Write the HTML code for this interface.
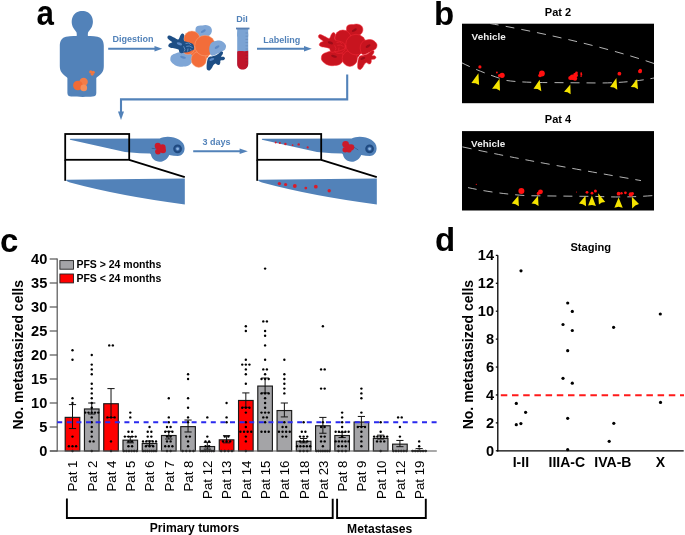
<!DOCTYPE html>
<html><head><meta charset="utf-8"><style>
html,body{margin:0;padding:0;background:#fff;}
svg{display:block;will-change:transform;}
text{font-family:"Liberation Sans",sans-serif;}
</style></head><body>
<svg width="685" height="535" viewBox="0 0 685 535">
<rect width="685" height="535" fill="#fff"/>
<text x="0" y="0" font-size="33" font-weight="bold" fill="#000" text-anchor="start" transform="translate(36.4 25) scale(0.95 1.045)">a</text>
<text x="434.0" y="25.2" font-size="33" font-weight="bold" fill="#000" text-anchor="start" >b</text>
<text x="0" y="252.3" font-size="33" font-weight="bold" fill="#000" text-anchor="start" >c</text>
<text x="435.0" y="251" font-size="33" font-weight="bold" fill="#000" text-anchor="start" >d</text>
<g fill="#5282b9"><path d="M66 36.8 C62 37.5 59.8 41 59.8 46 L59.8 66 C59.8 71 62 74 66.8 77.3 L67.4 78 L67.4 93 C67.4 95.5 68.9 96.5 71.2 96.6 C78 97 88 97 92.5 96.6 C95 96.4 96.3 95.5 96.3 93 L96.3 78 L96.9 77.3 C102 74 103.8 71 103.8 66 L103.8 46 C103.8 41 101.5 37.5 97.5 36.8 C93 36 88 36 82 36 C76 36 71 36 66 36.8 Z"/></g>
<g><circle cx="83.6" cy="81.9" r="4.2" fill="#f27c48"/><circle cx="77.9" cy="85.5" r="4.8" fill="#f26b35"/><circle cx="83.8" cy="87.9" r="3.3" fill="#f48f5c"/><circle cx="90.8" cy="71.9" r="1.6" fill="#f2763e"/><circle cx="93.3" cy="72.2" r="1.5" fill="#f2763e"/><circle cx="92.2" cy="74.3" r="1.4" fill="#f2763e"/></g>
<path d="M82.30 10.90 C84.13 10.90 86.25 11.32 87.80 12.20 C89.35 13.08 90.75 14.65 91.60 16.20 C92.45 17.75 92.83 19.78 92.90 21.50 C92.97 23.22 92.55 25.03 92.00 26.50 C91.45 27.97 90.27 29.25 89.60 30.30 C88.93 31.35 88.28 31.85 88.00 32.80 C87.72 33.75 87.82 35.05 87.90 36.00 C87.98 36.95 90.47 38.08 88.50 38.50 C86.53 38.92 78.07 38.92 76.10 38.50 C74.13 38.08 76.62 36.95 76.70 36.00 C76.78 35.05 76.88 33.75 76.60 32.80 C76.32 31.85 75.67 31.35 75.00 30.30 C74.33 29.25 73.15 27.97 72.60 26.50 C72.05 25.03 71.63 23.22 71.70 21.50 C71.77 19.78 72.15 17.75 73.00 16.20 C73.85 14.65 75.25 13.08 76.80 12.20 C78.35 11.32 80.47 10.90 82.30 10.90 Z" fill="#5282b9"/>
<line x1="108.2" y1="48.8" x2="156" y2="48.8" stroke="#5282b9" stroke-width="2.1"/>
<path d="M154.5 46 L162.3 48.8 L154.5 51.6 Z" fill="#5282b9"/>
<text x="112.4" y="41.9" font-size="9" font-weight="bold" fill="#5282b9" text-anchor="start" >Digestion</text>
<g transform="translate(0 0)"><ellipse cx="200" cy="48" rx="11" ry="13" fill="#f26d3a"/><path d="M195.5 29 C195.5 26 199 25 202.5 25.6 C205 24.6 209.5 25 211.2 27.8 C212.6 30.5 212 33.5 209.5 35.5 C206 37.5 200 38 197 36.5 C195.5 35 195.3 31.5 195.5 29 Z" fill="#7fa6d6" stroke="none" stroke-width="0.45"/><ellipse cx="203.3" cy="31.2" rx="2.8" ry="1.2" transform="rotate(-30 203.3 31.2)" fill="#5b89c6"/><path d="M171.70 55.20 C172.63 54.37 174.62 53.68 176.00 53.20 C177.38 52.72 178.50 52.43 180.00 52.30 C181.50 52.17 183.38 52.25 185.00 52.40 C186.62 52.55 188.48 52.60 189.70 53.20 C190.92 53.80 191.82 54.87 192.30 56.00 C192.78 57.13 192.90 58.67 192.60 60.00 C192.30 61.33 191.37 63.02 190.50 64.00 C189.63 64.98 188.57 65.48 187.40 65.90 C186.23 66.32 184.73 66.37 183.50 66.50 C182.27 66.63 181.42 66.92 180.00 66.70 C178.58 66.48 176.50 66.05 175.00 65.20 C173.50 64.35 171.77 62.77 171.00 61.60 C170.23 60.43 170.28 59.27 170.40 58.20 C170.52 57.13 170.77 56.03 171.70 55.20 Z" fill="#7fa6d6" stroke="none" stroke-width="0.45"/><ellipse cx="183" cy="57.3" rx="3" ry="1.2" transform="rotate(15 183 57.3)" fill="#5b89c6"/><circle cx="188" cy="48" r="6.5" fill="#f26d3a" stroke="#f9b08a" stroke-width="0.45"/><circle cx="191.9" cy="39.1" r="8.1" fill="#f26d3a" stroke="#f9b08a" stroke-width="0.45"/><ellipse cx="198.8" cy="59.5" rx="7.6" ry="7.9" fill="#f26d3a" stroke="#f9b08a" stroke-width="0.45"/><circle cx="205" cy="45.6" r="10.3" fill="#f26d3a" stroke="#f9b08a" stroke-width="0.45"/><path d="M211.00 43.30 C211.85 42.33 213.08 41.67 214.50 41.20 C215.92 40.73 218.05 40.37 219.50 40.50 C220.95 40.63 222.13 41.20 223.20 42.00 C224.27 42.80 225.57 44.08 225.90 45.30 C226.23 46.52 225.88 48.25 225.20 49.30 C224.52 50.35 223.25 50.77 221.80 51.60 C220.35 52.43 218.20 53.63 216.50 54.30 C214.80 54.97 212.77 56.07 211.60 55.60 C210.43 55.13 209.87 52.93 209.50 51.50 C209.13 50.07 209.15 48.37 209.40 47.00 C209.65 45.63 210.15 44.27 211.00 43.30 Z" fill="#7fa6d6" stroke="none" stroke-width="0.45"/><ellipse cx="217.1" cy="47.1" rx="2.7" ry="1.2" transform="rotate(-30 217.1 47.1)" fill="#5b89c6"/><path d="M167.60 36.40 C167.88 35.90 168.43 35.40 169.50 35.60 C170.57 35.80 172.53 36.97 174.00 37.60 C175.47 38.23 177.25 39.75 178.30 39.40 C179.35 39.05 179.63 36.47 180.30 35.50 C180.97 34.53 181.65 33.68 182.30 33.60 C182.95 33.52 183.95 34.13 184.20 35.00 C184.45 35.87 183.75 37.77 183.80 38.80 C183.85 39.83 183.72 40.63 184.50 41.20 C185.28 41.77 187.17 41.77 188.50 42.20 C189.83 42.63 191.58 43.08 192.50 43.80 C193.42 44.52 193.78 45.53 194.00 46.50 C194.22 47.47 194.30 48.85 193.80 49.60 C193.30 50.35 192.05 50.57 191.00 51.00 C189.95 51.43 188.67 51.93 187.50 52.20 C186.33 52.47 184.92 52.42 184.00 52.60 C183.08 52.78 182.75 53.30 182.00 53.30 C181.25 53.30 180.08 53.22 179.50 52.60 C178.92 51.98 179.25 50.30 178.50 49.60 C177.75 48.90 176.33 48.72 175.00 48.40 C173.67 48.08 171.62 48.10 170.50 47.70 C169.38 47.30 168.47 46.68 168.30 46.00 C168.13 45.32 168.83 44.22 169.50 43.60 C170.17 42.98 172.22 42.82 172.30 42.30 C172.38 41.78 170.75 41.12 170.00 40.50 C169.25 39.88 168.20 39.28 167.80 38.60 C167.40 37.92 167.32 36.90 167.60 36.40 Z" fill="#1d4e85" stroke="none" stroke-width="0.45"/><ellipse cx="179.4" cy="43.8" rx="2.8" ry="1.3" transform="rotate(20 179.4 43.8)" fill="#5b89c6"/><path d="M185.5 43.6 L188.6 43 L191.2 44.8 M186.2 46.4 L189.3 46 L192.6 47.5 M183.6 46.3 L185 49.8 L184 51.5 M188 48.5 L187.6 51.6 M190.4 48.8 L191.2 50.5" stroke="#7aa3d6" stroke-width="0.7" fill="none"/><path d="M207.30 60.50 C207.67 58.97 207.93 58.00 208.80 57.30 C209.67 56.60 211.30 56.65 212.50 56.30 C213.70 55.95 214.92 55.72 216.00 55.20 C217.08 54.68 218.13 53.82 219.00 53.20 C219.87 52.58 220.53 51.67 221.20 51.50 C221.87 51.33 222.78 51.70 223.00 52.20 C223.22 52.70 222.83 53.77 222.50 54.50 C222.17 55.23 220.82 56.22 221.00 56.60 C221.18 56.98 222.93 56.52 223.60 56.80 C224.27 57.08 224.97 57.77 225.00 58.30 C225.03 58.83 224.53 59.62 223.80 60.00 C223.07 60.38 221.18 60.13 220.60 60.60 C220.02 61.07 220.50 62.12 220.30 62.80 C220.10 63.48 219.90 64.37 219.40 64.70 C218.90 65.03 217.93 64.98 217.30 64.80 C216.67 64.62 216.23 63.57 215.60 63.60 C214.97 63.63 214.10 64.30 213.50 65.00 C212.90 65.70 212.65 66.90 212.00 67.80 C211.35 68.70 210.40 70.07 209.60 70.40 C208.80 70.73 207.70 70.45 207.20 69.80 C206.70 69.15 206.58 68.05 206.60 66.50 C206.62 64.95 206.93 62.03 207.30 60.50 Z" fill="#1d4e85" stroke="none" stroke-width="0.45"/><ellipse cx="211.8" cy="59.4" rx="2.6" ry="1.2" transform="rotate(-20 211.8 59.4)" fill="#5b89c6"/></g>
<text x="236.3" y="21.8" font-size="9" font-weight="bold" fill="#5282b9" text-anchor="start" >DiI</text>
<rect x="237.2" y="28.5" width="11" height="40.8" rx="5.5" fill="#7ba3d3"/>
<rect x="237.2" y="28.5" width="11" height="8" fill="#7ba3d3"/>
<path d="M237.2 51.5 C240 50.3 244 51.8 248.2 50.8 L248.2 64 C248.2 67.5 245.8 69.6 242.7 69.6 C239.6 69.6 237.2 67.5 237.2 64 Z" fill="#c0142a"/>
<rect x="236" y="27.6" width="13.5" height="1.8" fill="#5a80b2"/>
<line x1="245.5" y1="33.0" x2="248" y2="33.0" stroke="rgba(20,40,90,0.3)" stroke-width="0.5"/><line x1="245.5" y1="36.2" x2="248" y2="36.2" stroke="rgba(20,40,90,0.3)" stroke-width="0.5"/><line x1="245.5" y1="39.4" x2="248" y2="39.4" stroke="rgba(20,40,90,0.3)" stroke-width="0.5"/><line x1="245.5" y1="42.6" x2="248" y2="42.6" stroke="rgba(20,40,90,0.3)" stroke-width="0.5"/><line x1="245.5" y1="45.8" x2="248" y2="45.8" stroke="rgba(20,40,90,0.3)" stroke-width="0.5"/><line x1="245.5" y1="49.0" x2="248" y2="49.0" stroke="rgba(20,40,90,0.3)" stroke-width="0.5"/><line x1="245.5" y1="52.2" x2="248" y2="52.2" stroke="rgba(20,40,90,0.3)" stroke-width="0.5"/><line x1="245.5" y1="55.4" x2="248" y2="55.4" stroke="rgba(20,40,90,0.3)" stroke-width="0.5"/><line x1="245.5" y1="58.6" x2="248" y2="58.6" stroke="rgba(20,40,90,0.3)" stroke-width="0.5"/><line x1="245.5" y1="61.8" x2="248" y2="61.8" stroke="rgba(20,40,90,0.3)" stroke-width="0.5"/><line x1="245.5" y1="65.0" x2="248" y2="65.0" stroke="rgba(20,40,90,0.3)" stroke-width="0.5"/>
<line x1="257" y1="48.8" x2="305" y2="48.8" stroke="#5282b9" stroke-width="2.1"/>
<path d="M304 46 L311.8 48.8 L304 51.6 Z" fill="#5282b9"/>
<text x="263.3" y="42.7" font-size="9" font-weight="bold" fill="#5282b9" text-anchor="start" >Labeling</text>
<g transform="translate(151 -1)"><ellipse cx="200" cy="48" rx="11" ry="13" fill="#c8141f"/><path d="M195.5 29 C195.5 26 199 25 202.5 25.6 C205 24.6 209.5 25 211.2 27.8 C212.6 30.5 212 33.5 209.5 35.5 C206 37.5 200 38 197 36.5 C195.5 35 195.3 31.5 195.5 29 Z" fill="#c8141f" stroke="#f42a38" stroke-width="0.5"/><ellipse cx="203.3" cy="31.2" rx="2.8" ry="1.2" transform="rotate(-30 203.3 31.2)" fill="#9c0c18"/><path d="M171.70 55.20 C172.63 54.37 174.62 53.68 176.00 53.20 C177.38 52.72 178.50 52.43 180.00 52.30 C181.50 52.17 183.38 52.25 185.00 52.40 C186.62 52.55 188.48 52.60 189.70 53.20 C190.92 53.80 191.82 54.87 192.30 56.00 C192.78 57.13 192.90 58.67 192.60 60.00 C192.30 61.33 191.37 63.02 190.50 64.00 C189.63 64.98 188.57 65.48 187.40 65.90 C186.23 66.32 184.73 66.37 183.50 66.50 C182.27 66.63 181.42 66.92 180.00 66.70 C178.58 66.48 176.50 66.05 175.00 65.20 C173.50 64.35 171.77 62.77 171.00 61.60 C170.23 60.43 170.28 59.27 170.40 58.20 C170.52 57.13 170.77 56.03 171.70 55.20 Z" fill="#c8141f" stroke="#f42a38" stroke-width="0.5"/><ellipse cx="183" cy="57.3" rx="3" ry="1.2" transform="rotate(15 183 57.3)" fill="#9c0c18"/><circle cx="188" cy="48" r="6.5" fill="#c8141f" stroke="#f42a38" stroke-width="0.5"/><circle cx="191.9" cy="39.1" r="8.1" fill="#c8141f" stroke="#f42a38" stroke-width="0.5"/><ellipse cx="198.8" cy="59.5" rx="7.6" ry="7.9" fill="#c8141f" stroke="#f42a38" stroke-width="0.5"/><circle cx="205" cy="45.6" r="10.3" fill="#c8141f" stroke="#f42a38" stroke-width="0.5"/><path d="M211.00 43.30 C211.85 42.33 213.08 41.67 214.50 41.20 C215.92 40.73 218.05 40.37 219.50 40.50 C220.95 40.63 222.13 41.20 223.20 42.00 C224.27 42.80 225.57 44.08 225.90 45.30 C226.23 46.52 225.88 48.25 225.20 49.30 C224.52 50.35 223.25 50.77 221.80 51.60 C220.35 52.43 218.20 53.63 216.50 54.30 C214.80 54.97 212.77 56.07 211.60 55.60 C210.43 55.13 209.87 52.93 209.50 51.50 C209.13 50.07 209.15 48.37 209.40 47.00 C209.65 45.63 210.15 44.27 211.00 43.30 Z" fill="#c8141f" stroke="#f42a38" stroke-width="0.5"/><ellipse cx="217.1" cy="47.1" rx="2.7" ry="1.2" transform="rotate(-30 217.1 47.1)" fill="#9c0c18"/><path d="M167.60 36.40 C167.88 35.90 168.43 35.40 169.50 35.60 C170.57 35.80 172.53 36.97 174.00 37.60 C175.47 38.23 177.25 39.75 178.30 39.40 C179.35 39.05 179.63 36.47 180.30 35.50 C180.97 34.53 181.65 33.68 182.30 33.60 C182.95 33.52 183.95 34.13 184.20 35.00 C184.45 35.87 183.75 37.77 183.80 38.80 C183.85 39.83 183.72 40.63 184.50 41.20 C185.28 41.77 187.17 41.77 188.50 42.20 C189.83 42.63 191.58 43.08 192.50 43.80 C193.42 44.52 193.78 45.53 194.00 46.50 C194.22 47.47 194.30 48.85 193.80 49.60 C193.30 50.35 192.05 50.57 191.00 51.00 C189.95 51.43 188.67 51.93 187.50 52.20 C186.33 52.47 184.92 52.42 184.00 52.60 C183.08 52.78 182.75 53.30 182.00 53.30 C181.25 53.30 180.08 53.22 179.50 52.60 C178.92 51.98 179.25 50.30 178.50 49.60 C177.75 48.90 176.33 48.72 175.00 48.40 C173.67 48.08 171.62 48.10 170.50 47.70 C169.38 47.30 168.47 46.68 168.30 46.00 C168.13 45.32 168.83 44.22 169.50 43.60 C170.17 42.98 172.22 42.82 172.30 42.30 C172.38 41.78 170.75 41.12 170.00 40.50 C169.25 39.88 168.20 39.28 167.80 38.60 C167.40 37.92 167.32 36.90 167.60 36.40 Z" fill="#c8141f" stroke="#f42a38" stroke-width="0.5"/><ellipse cx="179.4" cy="43.8" rx="2.8" ry="1.3" transform="rotate(20 179.4 43.8)" fill="#9c0c18"/><path d="M185.5 43.6 L188.6 43 L191.2 44.8 M186.2 46.4 L189.3 46 L192.6 47.5 M183.6 46.3 L185 49.8 L184 51.5 M188 48.5 L187.6 51.6" stroke="#f42a38" stroke-width="0.45" fill="none"/><path d="M207.30 60.50 C207.67 58.97 207.93 58.00 208.80 57.30 C209.67 56.60 211.30 56.65 212.50 56.30 C213.70 55.95 214.92 55.72 216.00 55.20 C217.08 54.68 218.13 53.82 219.00 53.20 C219.87 52.58 220.53 51.67 221.20 51.50 C221.87 51.33 222.78 51.70 223.00 52.20 C223.22 52.70 222.83 53.77 222.50 54.50 C222.17 55.23 220.82 56.22 221.00 56.60 C221.18 56.98 222.93 56.52 223.60 56.80 C224.27 57.08 224.97 57.77 225.00 58.30 C225.03 58.83 224.53 59.62 223.80 60.00 C223.07 60.38 221.18 60.13 220.60 60.60 C220.02 61.07 220.50 62.12 220.30 62.80 C220.10 63.48 219.90 64.37 219.40 64.70 C218.90 65.03 217.93 64.98 217.30 64.80 C216.67 64.62 216.23 63.57 215.60 63.60 C214.97 63.63 214.10 64.30 213.50 65.00 C212.90 65.70 212.65 66.90 212.00 67.80 C211.35 68.70 210.40 70.07 209.60 70.40 C208.80 70.73 207.70 70.45 207.20 69.80 C206.70 69.15 206.58 68.05 206.60 66.50 C206.62 64.95 206.93 62.03 207.30 60.50 Z" fill="#c8141f" stroke="#f42a38" stroke-width="0.5"/><ellipse cx="211.8" cy="59.4" rx="2.6" ry="1.2" transform="rotate(-20 211.8 59.4)" fill="#9c0c18"/></g>
<path d="M347.2 74.5 L347.2 99.4 L121 99.4 L121 113" fill="none" stroke="#5282b9" stroke-width="2.1"/>
<path d="M118 111.5 L121 120 L124 111.5 Z" fill="#5282b9"/>
<g transform="translate(0,0)"><path fill="#5282b9" d="M70 139.6 C69.5 139.1 70 138.8 71 138.8 L159.7 138.6 C162 137.5 164.5 136.9 167.7 136.8 C176 136.8 184.6 141 184.6 148.2 C184.6 153.5 181 155.9 178 155.9 C175 155.9 172 155.5 169.2 155 C168 158.5 164 161.8 159.7 161.8 C155 161.8 151.5 158.5 151 154.6 L150 153.6 L140 153.2 L125 152.1 L70 139.8 Z"/><circle cx="177.6" cy="148.8" r="4.4" fill="#1f4a80"/><circle cx="177.6" cy="148.8" r="2.4" fill="#3d6aa8"/><circle cx="177.6" cy="148.8" r="1.4" fill="#8ab4e0"/><line x1="151.7" y1="148.3" x2="156" y2="148.8" stroke="#2a4f80" stroke-width="0.6"/><g fill="#cc1a2a"><circle cx="157.8" cy="145.9" r="3.1"/><circle cx="162.6" cy="147.2" r="3"/><circle cx="163" cy="150.3" r="3"/><circle cx="158" cy="151.6" r="2.9"/><circle cx="160.3" cy="148.7" r="3.3"/></g><path fill="#5282b9" d="M66.5 179.8 L184.8 178.6 L184.8 204.4 Q120 196 70 182.5 C67 181.6 65.5 180.6 66.5 179.8 Z"/><g fill="none" stroke="#000" stroke-width="1.8"><rect x="65.2" y="134" width="64" height="25.8"/><line x1="65.2" y1="159.8" x2="65.2" y2="180.8"/><line x1="129.2" y1="159.8" x2="184.8" y2="177.2"/></g></g>
<g transform="translate(192,0)"><path fill="#5282b9" d="M70 139.6 C69.5 139.1 70 138.8 71 138.8 L159.7 138.6 C162 137.5 164.5 136.9 167.7 136.8 C176 136.8 184.6 141 184.6 148.2 C184.6 153.5 181 155.9 178 155.9 C175 155.9 172 155.5 169.2 155 C168 158.5 164 161.8 159.7 161.8 C155 161.8 151.5 158.5 151 154.6 L150 153.6 L140 153.2 L125 152.1 L70 139.8 Z"/><circle cx="177.6" cy="148.8" r="4.4" fill="#1f4a80"/><circle cx="177.6" cy="148.8" r="2.4" fill="#3d6aa8"/><circle cx="177.6" cy="148.8" r="1.4" fill="#8ab4e0"/><line x1="161.9" y1="147.2" x2="166.3" y2="150" stroke="#2a4f80" stroke-width="0.6"/><g fill="#cc1a2a"><circle cx="153.6" cy="144.3" r="3.3"/><circle cx="159.2" cy="147.3" r="3.1"/><circle cx="153.2" cy="149.7" r="2.7"/><circle cx="156.4" cy="147.5" r="3.2"/><circle cx="157" cy="150" r="2.6"/></g><path fill="#5282b9" d="M66.5 179.8 L184.8 178.6 L184.8 204.4 Q120 196 70 182.5 C67 181.6 65.5 180.6 66.5 179.8 Z"/><g fill="none" stroke="#000" stroke-width="1.8"><rect x="65.2" y="134" width="64" height="25.8"/><line x1="65.2" y1="159.8" x2="65.2" y2="180.8"/><line x1="129.2" y1="159.8" x2="184.8" y2="177.2"/></g></g>
<circle cx="275.7" cy="142.5" r="1.0" fill="#d81c2c"/>
<circle cx="279.9" cy="142.9" r="1.0" fill="#d81c2c"/>
<circle cx="285.4" cy="144" r="1.2" fill="#d81c2c"/>
<circle cx="292.6" cy="145.2" r="0.9" fill="#d81c2c"/>
<circle cx="298.7" cy="144.4" r="1.2" fill="#d81c2c"/>
<circle cx="307.7" cy="147.4" r="1.1" fill="#d81c2c"/>
<circle cx="279.4" cy="183.6" r="1.7" fill="#d81c2c"/>
<circle cx="285.6" cy="184.5" r="1.6" fill="#d81c2c"/>
<circle cx="294.8" cy="186" r="1.9" fill="#d81c2c"/>
<circle cx="305.8" cy="188.1" r="1.4" fill="#d81c2c"/>
<circle cx="315.8" cy="186.7" r="1.9" fill="#d81c2c"/>
<circle cx="329.2" cy="190.8" r="1.7" fill="#d81c2c"/>
<line x1="193.2" y1="151.3" x2="241" y2="151.3" stroke="#5282b9" stroke-width="2.1"/>
<path d="M239.6 148.6 L247.8 151.3 L239.6 154 Z" fill="#5282b9"/>
<text x="202.4" y="145" font-size="9" font-weight="bold" fill="#5282b9" text-anchor="start" >3 days</text>
<text x="558" y="15.8" font-size="11" font-weight="bold" fill="#000" text-anchor="middle" >Pat 2</text>
<text x="558" y="122.7" font-size="11" font-weight="bold" fill="#000" text-anchor="middle" >Pat 4</text>
<rect x="462" y="23.7" width="192" height="79.5" fill="#000"/>
<rect x="462" y="131.1" width="192" height="79.4" fill="#000"/>
<text x="471.6" y="39.9" font-size="9.9" font-weight="bold" fill="#eee" text-anchor="start" >Vehicle</text>
<text x="471.1" y="146.9" font-size="9.9" font-weight="bold" fill="#eee" text-anchor="start" >Vehicle</text>
<path d="M490 23.5 C530 30.5 600 45 654 63.5" fill="none" stroke="#c8c8c8" stroke-width="0.9" stroke-dasharray="9 7"/>
<path d="M462 62.9 Q480 72 506 80.4 Q520 82.6 553 82.6 L600 83 Q630 82.8 654 78" fill="none" stroke="#c8c8c8" stroke-width="0.9" stroke-dasharray="9 7"/>
<path d="M462.5 146.9 Q500 155 535.8 161.7 T641 180.6" fill="none" stroke="#c8c8c8" stroke-width="0.9" stroke-dasharray="9 7"/>
<path d="M468 187.6 Q495 193.5 527 195.7 L600 196.5 Q625 197.8 654 195.5" fill="none" stroke="#c8c8c8" stroke-width="0.9" stroke-dasharray="9 7"/>
<circle cx="479.9" cy="66.9" r="1.6" fill="#ff1010"/>
<circle cx="502.1" cy="75.3" r="2.6" fill="#ff1010"/>
<circle cx="499.5" cy="75.6" r="1.6" fill="#ff1010"/>
<circle cx="496.9" cy="72.5" r="0.9" fill="#ff1010"/>
<circle cx="541.9" cy="73.5" r="2.9" fill="#ff1010"/>
<circle cx="540" cy="75.5" r="1.8" fill="#ff1010"/>
<circle cx="572.5" cy="77.3" r="2.7" fill="#ff1010"/>
<circle cx="575.5" cy="75.2" r="2.4" fill="#ff1010"/>
<circle cx="570.3" cy="78" r="2.1" fill="#ff1010"/>
<circle cx="575" cy="78.6" r="2.2" fill="#ff1010"/>
<circle cx="576.5" cy="72.8" r="1.3" fill="#ff1010"/>
<circle cx="581.2" cy="73.2" r="0.9" fill="#ff1010"/>
<circle cx="581.3" cy="74.8" r="1.0" fill="#ff1010"/>
<circle cx="581.1" cy="76.3" r="0.8" fill="#ff1010"/>
<circle cx="619.4" cy="73.7" r="1.9" fill="#ff1010"/>
<circle cx="640" cy="71.4" r="1.9" fill="#ff1010"/>
<circle cx="640.3" cy="70.3" r="1.6" fill="#ff1010"/>
<circle cx="476.3" cy="184.3" r="0.6" fill="#ff1010"/>
<circle cx="521.4" cy="191" r="3.0" fill="#ff1010"/>
<circle cx="540.5" cy="191.8" r="2.4" fill="#ff1010"/>
<circle cx="538.3" cy="193.4" r="1.6" fill="#ff1010"/>
<circle cx="576.5" cy="192" r="0.5" fill="#ff1010"/>
<circle cx="587" cy="192.3" r="1.4" fill="#ff1010"/>
<circle cx="592" cy="193.2" r="1.4" fill="#ff1010"/>
<circle cx="595.4" cy="191" r="1.5" fill="#ff1010"/>
<circle cx="618.6" cy="193.7" r="1.9" fill="#ff1010"/>
<circle cx="621.5" cy="193.3" r="1.2" fill="#ff1010"/>
<circle cx="625.4" cy="192.8" r="1.4" fill="#ff1010"/>
<circle cx="630.8" cy="194.4" r="2.2" fill="#ff1010"/>
<circle cx="632.5" cy="193.5" r="1.5" fill="#ff1010"/>
<path d="M478.43 73.22 L479.10 85.10 L475.49 83.22 L471.37 83.08 Z" fill="#f5e400"/>
<path d="M499.55 78.82 L500.00 90.70 L496.31 88.82 L492.05 88.68 Z" fill="#f5e400"/>
<path d="M539.66 79.67 L541.34 91.20 L537.60 89.10 L533.50 88.63 Z" fill="#f5e400"/>
<path d="M570.31 84.60 L570.65 94.34 L567.58 92.33 L564.04 91.66 Z" fill="#f5e400"/>
<path d="M616.39 78.06 L617.29 89.71 L613.92 87.54 L610.12 87.02 Z" fill="#f5e400"/>
<path d="M637.09 78.95 L637.99 89.14 L634.62 87.35 L630.82 87.01 Z" fill="#f5e400"/>
<path d="M518.32 195.86 L518.88 206.27 L515.53 204.15 L511.71 203.47 Z" fill="#f5e400"/>
<path d="M538.01 195.87 L538.57 205.95 L535.28 204.01 L531.52 203.48 Z" fill="#f5e400"/>
<path d="M585.52 195.86 L586.08 206.27 L582.73 204.15 L578.91 203.47 Z" fill="#f5e400"/>
<path d="M591.89 195.57 L595.92 205.99 L592.00 204.95 L588.08 205.54 Z" fill="#f5e400"/>
<path d="M598.12 193.29 L598.90 204.49 L601.77 202.46 L605.28 202.02 Z" fill="#f5e400"/>
<path d="M618.60 197.47 L622.75 207.66 L618.55 206.85 L614.35 207.66 Z" fill="#f5e400"/>
<path d="M631.83 196.71 L632.17 208.58 L635.28 205.57 L639.00 204.10 Z" fill="#f5e400"/>
<line x1="57.2" y1="258.5" x2="57.2" y2="451.5" stroke="#555" stroke-width="1.2"/>
<line x1="49.7" y1="451.0" x2="57.2" y2="451.0" stroke="#555" stroke-width="1.2"/>
<text x="47.3" y="456.1" font-size="14.6" font-weight="bold" fill="#000" text-anchor="end" >0</text>
<line x1="49.7" y1="427.0" x2="57.2" y2="427.0" stroke="#555" stroke-width="1.2"/>
<text x="47.3" y="432.1" font-size="14.6" font-weight="bold" fill="#000" text-anchor="end" >5</text>
<line x1="49.7" y1="403.0" x2="57.2" y2="403.0" stroke="#555" stroke-width="1.2"/>
<text x="47.3" y="408.1" font-size="14.6" font-weight="bold" fill="#000" text-anchor="end" >10</text>
<line x1="49.7" y1="379.0" x2="57.2" y2="379.0" stroke="#555" stroke-width="1.2"/>
<text x="47.3" y="384.1" font-size="14.6" font-weight="bold" fill="#000" text-anchor="end" >15</text>
<line x1="49.7" y1="355.0" x2="57.2" y2="355.0" stroke="#555" stroke-width="1.2"/>
<text x="47.3" y="360.1" font-size="14.6" font-weight="bold" fill="#000" text-anchor="end" >20</text>
<line x1="49.7" y1="331.0" x2="57.2" y2="331.0" stroke="#555" stroke-width="1.2"/>
<text x="47.3" y="336.1" font-size="14.6" font-weight="bold" fill="#000" text-anchor="end" >25</text>
<line x1="49.7" y1="307.0" x2="57.2" y2="307.0" stroke="#555" stroke-width="1.2"/>
<text x="47.3" y="312.1" font-size="14.6" font-weight="bold" fill="#000" text-anchor="end" >30</text>
<line x1="49.7" y1="283.0" x2="57.2" y2="283.0" stroke="#555" stroke-width="1.2"/>
<text x="47.3" y="288.1" font-size="14.6" font-weight="bold" fill="#000" text-anchor="end" >35</text>
<line x1="49.7" y1="259.0" x2="57.2" y2="259.0" stroke="#555" stroke-width="1.2"/>
<text x="47.3" y="264.1" font-size="14.6" font-weight="bold" fill="#000" text-anchor="end" >40</text>
<text x="0" y="0" font-size="14" font-weight="bold" fill="#000" text-anchor="middle" transform="translate(22.9 354.7) rotate(-90)">No. metastasized cells</text>
<rect x="59.9" y="260.6" width="13.6" height="8.6" fill="#a4a4a7" stroke="#222" stroke-width="0.9"/>
<rect x="59.9" y="274" width="13.6" height="8.9" fill="#ff0000" stroke="#222" stroke-width="0.9"/>
<text x="76.4" y="268" font-size="10.5" font-weight="bold" fill="#000" text-anchor="start" >PFS &gt; 24 months</text>
<text x="76.4" y="282.4" font-size="10.5" font-weight="bold" fill="#000" text-anchor="start" >PFS &lt; 24 months</text>
<rect x="65.20" y="417.37" width="14.6" height="33.63" fill="#ff0000" stroke="#1a1a1a" stroke-width="1.15"/>
<g stroke="#111" stroke-width="1.0"><line x1="72.50" y1="404.58" x2="72.50" y2="428.58"/><line x1="68.90" y1="404.58" x2="76.10" y2="404.58"/><line x1="68.90" y1="428.58" x2="76.10" y2="428.58"/></g>
<circle cx="72.50" cy="350.20" r="1.2" fill="#000"/>
<circle cx="72.50" cy="359.80" r="1.2" fill="#000"/>
<circle cx="72.50" cy="398.20" r="1.2" fill="#000"/>
<circle cx="72.50" cy="403.00" r="1.2" fill="#000"/>
<circle cx="72.50" cy="436.60" r="1.2" fill="#000"/>
<circle cx="68.90" cy="446.20" r="1.2" fill="#000"/>
<circle cx="72.50" cy="446.20" r="1.2" fill="#000"/>
<circle cx="76.10" cy="446.20" r="1.2" fill="#000"/>
<circle cx="72.50" cy="451.00" r="1.2" fill="#000"/>
<text transform="translate(77.40 460.5) rotate(-90)" font-size="13.3" text-anchor="end" fill="#000">Pat 1</text>
<rect x="84.46" y="408.97" width="14.6" height="42.03" fill="#a4a4a7" stroke="#1a1a1a" stroke-width="1.15"/>
<g stroke="#111" stroke-width="1.0"><line x1="91.76" y1="403.00" x2="91.76" y2="414.04"/><line x1="88.16" y1="403.00" x2="95.36" y2="403.00"/><line x1="88.16" y1="414.04" x2="95.36" y2="414.04"/></g>
<circle cx="91.76" cy="355.00" r="1.2" fill="#000"/>
<circle cx="91.76" cy="364.60" r="1.2" fill="#000"/>
<circle cx="91.76" cy="369.40" r="1.2" fill="#000"/>
<circle cx="91.76" cy="374.20" r="1.2" fill="#000"/>
<circle cx="91.76" cy="383.80" r="1.2" fill="#000"/>
<circle cx="91.76" cy="388.60" r="1.2" fill="#000"/>
<circle cx="91.76" cy="393.40" r="1.2" fill="#000"/>
<circle cx="91.76" cy="398.20" r="1.2" fill="#000"/>
<circle cx="91.76" cy="403.00" r="1.2" fill="#000"/>
<circle cx="91.76" cy="407.80" r="1.2" fill="#000"/>
<circle cx="85.26" cy="412.60" r="1.2" fill="#000"/>
<circle cx="88.51" cy="412.60" r="1.2" fill="#000"/>
<circle cx="91.76" cy="412.60" r="1.2" fill="#000"/>
<circle cx="95.01" cy="412.60" r="1.2" fill="#000"/>
<circle cx="98.26" cy="412.60" r="1.2" fill="#000"/>
<circle cx="91.76" cy="417.40" r="1.2" fill="#000"/>
<circle cx="91.76" cy="422.20" r="1.2" fill="#000"/>
<circle cx="91.76" cy="427.00" r="1.2" fill="#000"/>
<circle cx="91.76" cy="431.80" r="1.2" fill="#000"/>
<circle cx="91.76" cy="436.60" r="1.2" fill="#000"/>
<circle cx="89.96" cy="441.40" r="1.2" fill="#000"/>
<circle cx="93.56" cy="441.40" r="1.2" fill="#000"/>
<circle cx="91.76" cy="451.00" r="1.2" fill="#000"/>
<text transform="translate(96.66 460.5) rotate(-90)" font-size="13.3" text-anchor="end" fill="#000">Pat 2</text>
<rect x="103.72" y="403.73" width="14.6" height="47.27" fill="#ff0000" stroke="#1a1a1a" stroke-width="1.15"/>
<g stroke="#111" stroke-width="1.0"><line x1="111.02" y1="388.60" x2="111.02" y2="417.40"/><line x1="107.42" y1="388.60" x2="114.62" y2="388.60"/><line x1="107.42" y1="417.40" x2="114.62" y2="417.40"/></g>
<circle cx="109.22" cy="345.40" r="1.2" fill="#000"/>
<circle cx="112.82" cy="345.40" r="1.2" fill="#000"/>
<circle cx="107.42" cy="417.40" r="1.2" fill="#000"/>
<circle cx="111.02" cy="417.40" r="1.2" fill="#000"/>
<circle cx="114.62" cy="417.40" r="1.2" fill="#000"/>
<circle cx="111.02" cy="441.40" r="1.2" fill="#000"/>
<circle cx="111.02" cy="451.00" r="1.2" fill="#000"/>
<text transform="translate(115.92 460.5) rotate(-90)" font-size="13.3" text-anchor="end" fill="#000">Pat 4</text>
<rect x="122.98" y="440.17" width="14.6" height="10.83" fill="#a4a4a7" stroke="#1a1a1a" stroke-width="1.15"/>
<g stroke="#111" stroke-width="1.0"><line x1="130.28" y1="436.60" x2="130.28" y2="442.84"/><line x1="126.68" y1="436.60" x2="133.88" y2="436.60"/><line x1="126.68" y1="442.84" x2="133.88" y2="442.84"/></g>
<circle cx="130.28" cy="412.60" r="1.2" fill="#000"/>
<circle cx="130.28" cy="417.40" r="1.2" fill="#000"/>
<circle cx="128.48" cy="431.80" r="1.2" fill="#000"/>
<circle cx="132.08" cy="431.80" r="1.2" fill="#000"/>
<circle cx="124.88" cy="436.60" r="1.2" fill="#000"/>
<circle cx="128.48" cy="436.60" r="1.2" fill="#000"/>
<circle cx="132.08" cy="436.60" r="1.2" fill="#000"/>
<circle cx="135.68" cy="436.60" r="1.2" fill="#000"/>
<circle cx="128.48" cy="441.40" r="1.2" fill="#000"/>
<circle cx="132.08" cy="441.40" r="1.2" fill="#000"/>
<circle cx="128.48" cy="446.20" r="1.2" fill="#000"/>
<circle cx="132.08" cy="446.20" r="1.2" fill="#000"/>
<circle cx="123.78" cy="451.00" r="1.2" fill="#000"/>
<circle cx="126.38" cy="451.00" r="1.2" fill="#000"/>
<circle cx="128.98" cy="451.00" r="1.2" fill="#000"/>
<circle cx="131.58" cy="451.00" r="1.2" fill="#000"/>
<circle cx="134.18" cy="451.00" r="1.2" fill="#000"/>
<circle cx="136.78" cy="451.00" r="1.2" fill="#000"/>
<text transform="translate(135.18 460.5) rotate(-90)" font-size="13.3" text-anchor="end" fill="#000">Pat 5</text>
<rect x="142.24" y="443.43" width="14.6" height="7.57" fill="#a4a4a7" stroke="#1a1a1a" stroke-width="1.15"/>
<g stroke="#111" stroke-width="1.0"><line x1="149.54" y1="440.92" x2="149.54" y2="445.24"/><line x1="145.94" y1="440.92" x2="153.14" y2="440.92"/><line x1="145.94" y1="445.24" x2="153.14" y2="445.24"/></g>
<circle cx="149.54" cy="427.00" r="1.2" fill="#000"/>
<circle cx="147.74" cy="431.80" r="1.2" fill="#000"/>
<circle cx="151.34" cy="431.80" r="1.2" fill="#000"/>
<circle cx="147.74" cy="436.60" r="1.2" fill="#000"/>
<circle cx="151.34" cy="436.60" r="1.2" fill="#000"/>
<circle cx="143.04" cy="441.40" r="1.2" fill="#000"/>
<circle cx="146.29" cy="441.40" r="1.2" fill="#000"/>
<circle cx="149.54" cy="441.40" r="1.2" fill="#000"/>
<circle cx="152.79" cy="441.40" r="1.2" fill="#000"/>
<circle cx="156.04" cy="441.40" r="1.2" fill="#000"/>
<circle cx="145.94" cy="446.20" r="1.2" fill="#000"/>
<circle cx="149.54" cy="446.20" r="1.2" fill="#000"/>
<circle cx="153.14" cy="446.20" r="1.2" fill="#000"/>
<circle cx="143.04" cy="451.00" r="1.2" fill="#000"/>
<circle cx="145.21" cy="451.00" r="1.2" fill="#000"/>
<circle cx="147.37" cy="451.00" r="1.2" fill="#000"/>
<circle cx="149.54" cy="451.00" r="1.2" fill="#000"/>
<circle cx="151.71" cy="451.00" r="1.2" fill="#000"/>
<circle cx="153.87" cy="451.00" r="1.2" fill="#000"/>
<circle cx="156.04" cy="451.00" r="1.2" fill="#000"/>
<text transform="translate(154.44 460.5) rotate(-90)" font-size="13.3" text-anchor="end" fill="#000">Pat 6</text>
<rect x="161.50" y="435.51" width="14.6" height="15.49" fill="#a4a4a7" stroke="#1a1a1a" stroke-width="1.15"/>
<g stroke="#111" stroke-width="1.0"><line x1="168.80" y1="431.32" x2="168.80" y2="439.00"/><line x1="165.20" y1="431.32" x2="172.40" y2="431.32"/><line x1="165.20" y1="439.00" x2="172.40" y2="439.00"/></g>
<circle cx="168.80" cy="398.20" r="1.2" fill="#000"/>
<circle cx="168.80" cy="417.40" r="1.2" fill="#000"/>
<circle cx="168.80" cy="422.20" r="1.2" fill="#000"/>
<circle cx="167.00" cy="427.00" r="1.2" fill="#000"/>
<circle cx="170.60" cy="427.00" r="1.2" fill="#000"/>
<circle cx="165.20" cy="431.80" r="1.2" fill="#000"/>
<circle cx="168.80" cy="431.80" r="1.2" fill="#000"/>
<circle cx="172.40" cy="431.80" r="1.2" fill="#000"/>
<circle cx="167.00" cy="436.60" r="1.2" fill="#000"/>
<circle cx="170.60" cy="436.60" r="1.2" fill="#000"/>
<circle cx="167.00" cy="441.40" r="1.2" fill="#000"/>
<circle cx="170.60" cy="441.40" r="1.2" fill="#000"/>
<circle cx="165.20" cy="446.20" r="1.2" fill="#000"/>
<circle cx="168.80" cy="446.20" r="1.2" fill="#000"/>
<circle cx="172.40" cy="446.20" r="1.2" fill="#000"/>
<circle cx="167.00" cy="451.00" r="1.2" fill="#000"/>
<circle cx="170.60" cy="451.00" r="1.2" fill="#000"/>
<text transform="translate(173.70 460.5) rotate(-90)" font-size="13.3" text-anchor="end" fill="#000">Pat 7</text>
<rect x="180.76" y="426.63" width="14.6" height="24.37" fill="#a4a4a7" stroke="#1a1a1a" stroke-width="1.15"/>
<g stroke="#111" stroke-width="1.0"><line x1="188.06" y1="420.04" x2="188.06" y2="431.99"/><line x1="184.46" y1="420.04" x2="191.66" y2="420.04"/><line x1="184.46" y1="431.99" x2="191.66" y2="431.99"/></g>
<circle cx="188.06" cy="374.20" r="1.2" fill="#000"/>
<circle cx="188.06" cy="379.00" r="1.2" fill="#000"/>
<circle cx="188.06" cy="398.20" r="1.2" fill="#000"/>
<circle cx="188.06" cy="407.80" r="1.2" fill="#000"/>
<circle cx="188.06" cy="417.40" r="1.2" fill="#000"/>
<circle cx="188.06" cy="422.20" r="1.2" fill="#000"/>
<circle cx="186.26" cy="436.60" r="1.2" fill="#000"/>
<circle cx="189.86" cy="436.60" r="1.2" fill="#000"/>
<circle cx="188.06" cy="441.40" r="1.2" fill="#000"/>
<circle cx="188.06" cy="446.20" r="1.2" fill="#000"/>
<circle cx="182.66" cy="451.00" r="1.2" fill="#000"/>
<circle cx="186.26" cy="451.00" r="1.2" fill="#000"/>
<circle cx="189.86" cy="451.00" r="1.2" fill="#000"/>
<circle cx="193.46" cy="451.00" r="1.2" fill="#000"/>
<text transform="translate(192.96 460.5) rotate(-90)" font-size="13.3" text-anchor="end" fill="#000">Pat 8</text>
<rect x="200.02" y="446.55" width="14.6" height="4.45" fill="#a4a4a7" stroke="#1a1a1a" stroke-width="1.15"/>
<g stroke="#111" stroke-width="1.0"><line x1="207.32" y1="442.36" x2="207.32" y2="449.08"/><line x1="203.72" y1="442.36" x2="210.92" y2="442.36"/><line x1="203.72" y1="449.08" x2="210.92" y2="449.08"/></g>
<circle cx="207.32" cy="417.40" r="1.2" fill="#000"/>
<circle cx="207.32" cy="436.60" r="1.2" fill="#000"/>
<circle cx="205.52" cy="441.40" r="1.2" fill="#000"/>
<circle cx="209.12" cy="441.40" r="1.2" fill="#000"/>
<circle cx="205.52" cy="446.20" r="1.2" fill="#000"/>
<circle cx="209.12" cy="446.20" r="1.2" fill="#000"/>
<circle cx="200.82" cy="451.00" r="1.2" fill="#000"/>
<circle cx="202.99" cy="451.00" r="1.2" fill="#000"/>
<circle cx="205.15" cy="451.00" r="1.2" fill="#000"/>
<circle cx="207.32" cy="451.00" r="1.2" fill="#000"/>
<circle cx="209.49" cy="451.00" r="1.2" fill="#000"/>
<circle cx="211.65" cy="451.00" r="1.2" fill="#000"/>
<circle cx="213.82" cy="451.00" r="1.2" fill="#000"/>
<text transform="translate(212.22 460.5) rotate(-90)" font-size="13.3" text-anchor="end" fill="#000">Pat 12</text>
<rect x="219.28" y="439.83" width="14.6" height="11.17" fill="#ff0000" stroke="#1a1a1a" stroke-width="1.15"/>
<g stroke="#111" stroke-width="1.0"><line x1="226.58" y1="435.64" x2="226.58" y2="442.84"/><line x1="222.98" y1="435.64" x2="230.18" y2="435.64"/><line x1="222.98" y1="442.84" x2="230.18" y2="442.84"/></g>
<circle cx="226.58" cy="403.00" r="1.2" fill="#000"/>
<circle cx="226.58" cy="417.40" r="1.2" fill="#000"/>
<circle cx="226.58" cy="422.20" r="1.2" fill="#000"/>
<circle cx="224.78" cy="436.60" r="1.2" fill="#000"/>
<circle cx="228.38" cy="436.60" r="1.2" fill="#000"/>
<circle cx="222.98" cy="441.40" r="1.2" fill="#000"/>
<circle cx="226.58" cy="441.40" r="1.2" fill="#000"/>
<circle cx="230.18" cy="441.40" r="1.2" fill="#000"/>
<circle cx="221.18" cy="451.00" r="1.2" fill="#000"/>
<circle cx="224.78" cy="451.00" r="1.2" fill="#000"/>
<circle cx="228.38" cy="451.00" r="1.2" fill="#000"/>
<circle cx="231.98" cy="451.00" r="1.2" fill="#000"/>
<text transform="translate(231.48 460.5) rotate(-90)" font-size="13.3" text-anchor="end" fill="#000">Pat 13</text>
<rect x="238.54" y="400.47" width="14.6" height="50.53" fill="#ff0000" stroke="#1a1a1a" stroke-width="1.15"/>
<g stroke="#111" stroke-width="1.0"><line x1="245.84" y1="392.92" x2="245.84" y2="407.32"/><line x1="242.24" y1="392.92" x2="249.44" y2="392.92"/><line x1="242.24" y1="407.32" x2="249.44" y2="407.32"/></g>
<circle cx="245.84" cy="326.20" r="1.2" fill="#000"/>
<circle cx="245.84" cy="331.00" r="1.2" fill="#000"/>
<circle cx="245.84" cy="359.80" r="1.2" fill="#000"/>
<circle cx="242.24" cy="364.60" r="1.2" fill="#000"/>
<circle cx="245.84" cy="364.60" r="1.2" fill="#000"/>
<circle cx="249.44" cy="364.60" r="1.2" fill="#000"/>
<circle cx="245.84" cy="369.40" r="1.2" fill="#000"/>
<circle cx="245.84" cy="374.20" r="1.2" fill="#000"/>
<circle cx="245.84" cy="383.80" r="1.2" fill="#000"/>
<circle cx="242.24" cy="407.80" r="1.2" fill="#000"/>
<circle cx="245.84" cy="407.80" r="1.2" fill="#000"/>
<circle cx="249.44" cy="407.80" r="1.2" fill="#000"/>
<circle cx="245.84" cy="412.60" r="1.2" fill="#000"/>
<circle cx="245.84" cy="422.20" r="1.2" fill="#000"/>
<circle cx="245.84" cy="427.00" r="1.2" fill="#000"/>
<circle cx="240.44" cy="431.80" r="1.2" fill="#000"/>
<circle cx="244.04" cy="431.80" r="1.2" fill="#000"/>
<circle cx="247.64" cy="431.80" r="1.2" fill="#000"/>
<circle cx="251.24" cy="431.80" r="1.2" fill="#000"/>
<circle cx="245.84" cy="436.60" r="1.2" fill="#000"/>
<circle cx="245.84" cy="441.40" r="1.2" fill="#000"/>
<circle cx="245.84" cy="451.00" r="1.2" fill="#000"/>
<text transform="translate(250.74 460.5) rotate(-90)" font-size="13.3" text-anchor="end" fill="#000">Pat 14</text>
<rect x="257.80" y="386.07" width="14.6" height="64.93" fill="#a4a4a7" stroke="#1a1a1a" stroke-width="1.15"/>
<g stroke="#111" stroke-width="1.0"><line x1="265.10" y1="378.04" x2="265.10" y2="392.92"/><line x1="261.50" y1="378.04" x2="268.70" y2="378.04"/><line x1="261.50" y1="392.92" x2="268.70" y2="392.92"/></g>
<circle cx="265.10" cy="268.60" r="1.2" fill="#000"/>
<circle cx="263.30" cy="321.40" r="1.2" fill="#000"/>
<circle cx="266.90" cy="321.40" r="1.2" fill="#000"/>
<circle cx="265.10" cy="331.00" r="1.2" fill="#000"/>
<circle cx="265.10" cy="335.80" r="1.2" fill="#000"/>
<circle cx="265.10" cy="345.40" r="1.2" fill="#000"/>
<circle cx="265.10" cy="359.80" r="1.2" fill="#000"/>
<circle cx="263.30" cy="369.40" r="1.2" fill="#000"/>
<circle cx="266.90" cy="369.40" r="1.2" fill="#000"/>
<circle cx="265.10" cy="374.20" r="1.2" fill="#000"/>
<circle cx="261.50" cy="379.00" r="1.2" fill="#000"/>
<circle cx="265.10" cy="379.00" r="1.2" fill="#000"/>
<circle cx="268.70" cy="379.00" r="1.2" fill="#000"/>
<circle cx="261.50" cy="393.40" r="1.2" fill="#000"/>
<circle cx="265.10" cy="393.40" r="1.2" fill="#000"/>
<circle cx="268.70" cy="393.40" r="1.2" fill="#000"/>
<circle cx="265.10" cy="398.20" r="1.2" fill="#000"/>
<circle cx="265.10" cy="403.00" r="1.2" fill="#000"/>
<circle cx="265.10" cy="407.80" r="1.2" fill="#000"/>
<circle cx="261.50" cy="412.60" r="1.2" fill="#000"/>
<circle cx="265.10" cy="412.60" r="1.2" fill="#000"/>
<circle cx="268.70" cy="412.60" r="1.2" fill="#000"/>
<circle cx="263.30" cy="417.40" r="1.2" fill="#000"/>
<circle cx="266.90" cy="417.40" r="1.2" fill="#000"/>
<circle cx="265.10" cy="422.20" r="1.2" fill="#000"/>
<circle cx="261.50" cy="431.80" r="1.2" fill="#000"/>
<circle cx="265.10" cy="431.80" r="1.2" fill="#000"/>
<circle cx="268.70" cy="431.80" r="1.2" fill="#000"/>
<text transform="translate(270.00 460.5) rotate(-90)" font-size="13.3" text-anchor="end" fill="#000">Pat 15</text>
<rect x="277.06" y="410.55" width="14.6" height="40.45" fill="#a4a4a7" stroke="#1a1a1a" stroke-width="1.15"/>
<g stroke="#111" stroke-width="1.0"><line x1="284.36" y1="403.00" x2="284.36" y2="416.92"/><line x1="280.76" y1="403.00" x2="287.96" y2="403.00"/><line x1="280.76" y1="416.92" x2="287.96" y2="416.92"/></g>
<circle cx="284.36" cy="359.80" r="1.2" fill="#000"/>
<circle cx="284.36" cy="374.20" r="1.2" fill="#000"/>
<circle cx="284.36" cy="379.00" r="1.2" fill="#000"/>
<circle cx="284.36" cy="383.80" r="1.2" fill="#000"/>
<circle cx="284.36" cy="388.60" r="1.2" fill="#000"/>
<circle cx="284.36" cy="393.40" r="1.2" fill="#000"/>
<circle cx="284.36" cy="422.20" r="1.2" fill="#000"/>
<circle cx="282.56" cy="427.00" r="1.2" fill="#000"/>
<circle cx="286.16" cy="427.00" r="1.2" fill="#000"/>
<circle cx="278.96" cy="431.80" r="1.2" fill="#000"/>
<circle cx="282.56" cy="431.80" r="1.2" fill="#000"/>
<circle cx="286.16" cy="431.80" r="1.2" fill="#000"/>
<circle cx="289.76" cy="431.80" r="1.2" fill="#000"/>
<circle cx="282.56" cy="436.60" r="1.2" fill="#000"/>
<circle cx="286.16" cy="436.60" r="1.2" fill="#000"/>
<text transform="translate(289.26 460.5) rotate(-90)" font-size="13.3" text-anchor="end" fill="#000">Pat 16</text>
<rect x="296.32" y="441.27" width="14.6" height="9.73" fill="#a4a4a7" stroke="#1a1a1a" stroke-width="1.15"/>
<g stroke="#111" stroke-width="1.0"><line x1="303.62" y1="438.52" x2="303.62" y2="442.84"/><line x1="300.02" y1="438.52" x2="307.22" y2="438.52"/><line x1="300.02" y1="442.84" x2="307.22" y2="442.84"/></g>
<circle cx="303.62" cy="422.20" r="1.2" fill="#000"/>
<circle cx="301.82" cy="431.80" r="1.2" fill="#000"/>
<circle cx="305.42" cy="431.80" r="1.2" fill="#000"/>
<circle cx="300.02" cy="436.60" r="1.2" fill="#000"/>
<circle cx="303.62" cy="436.60" r="1.2" fill="#000"/>
<circle cx="307.22" cy="436.60" r="1.2" fill="#000"/>
<circle cx="300.02" cy="441.40" r="1.2" fill="#000"/>
<circle cx="303.62" cy="441.40" r="1.2" fill="#000"/>
<circle cx="307.22" cy="441.40" r="1.2" fill="#000"/>
<circle cx="297.12" cy="446.20" r="1.2" fill="#000"/>
<circle cx="300.37" cy="446.20" r="1.2" fill="#000"/>
<circle cx="303.62" cy="446.20" r="1.2" fill="#000"/>
<circle cx="306.87" cy="446.20" r="1.2" fill="#000"/>
<circle cx="310.12" cy="446.20" r="1.2" fill="#000"/>
<circle cx="300.02" cy="451.00" r="1.2" fill="#000"/>
<circle cx="303.62" cy="451.00" r="1.2" fill="#000"/>
<circle cx="307.22" cy="451.00" r="1.2" fill="#000"/>
<text transform="translate(308.52 460.5) rotate(-90)" font-size="13.3" text-anchor="end" fill="#000">Pat 18</text>
<rect x="315.58" y="425.77" width="14.6" height="25.23" fill="#a4a4a7" stroke="#1a1a1a" stroke-width="1.15"/>
<g stroke="#111" stroke-width="1.0"><line x1="322.88" y1="417.40" x2="322.88" y2="433.24"/><line x1="319.28" y1="417.40" x2="326.48" y2="417.40"/><line x1="319.28" y1="433.24" x2="326.48" y2="433.24"/></g>
<circle cx="322.88" cy="326.20" r="1.2" fill="#000"/>
<circle cx="321.08" cy="369.40" r="1.2" fill="#000"/>
<circle cx="324.68" cy="369.40" r="1.2" fill="#000"/>
<circle cx="321.08" cy="388.60" r="1.2" fill="#000"/>
<circle cx="324.68" cy="388.60" r="1.2" fill="#000"/>
<circle cx="322.88" cy="422.20" r="1.2" fill="#000"/>
<circle cx="321.08" cy="427.00" r="1.2" fill="#000"/>
<circle cx="324.68" cy="427.00" r="1.2" fill="#000"/>
<circle cx="321.08" cy="436.60" r="1.2" fill="#000"/>
<circle cx="324.68" cy="436.60" r="1.2" fill="#000"/>
<circle cx="321.08" cy="441.40" r="1.2" fill="#000"/>
<circle cx="324.68" cy="441.40" r="1.2" fill="#000"/>
<circle cx="322.88" cy="446.20" r="1.2" fill="#000"/>
<circle cx="316.38" cy="451.00" r="1.2" fill="#000"/>
<circle cx="318.55" cy="451.00" r="1.2" fill="#000"/>
<circle cx="320.71" cy="451.00" r="1.2" fill="#000"/>
<circle cx="322.88" cy="451.00" r="1.2" fill="#000"/>
<circle cx="325.05" cy="451.00" r="1.2" fill="#000"/>
<circle cx="327.21" cy="451.00" r="1.2" fill="#000"/>
<circle cx="329.38" cy="451.00" r="1.2" fill="#000"/>
<text transform="translate(327.78 460.5) rotate(-90)" font-size="13.3" text-anchor="end" fill="#000">Pat 23</text>
<rect x="334.84" y="435.51" width="14.6" height="15.49" fill="#a4a4a7" stroke="#1a1a1a" stroke-width="1.15"/>
<g stroke="#111" stroke-width="1.0"><line x1="342.14" y1="432.28" x2="342.14" y2="437.56"/><line x1="338.54" y1="432.28" x2="345.74" y2="432.28"/><line x1="338.54" y1="437.56" x2="345.74" y2="437.56"/></g>
<circle cx="342.14" cy="412.60" r="1.2" fill="#000"/>
<circle cx="342.14" cy="417.40" r="1.2" fill="#000"/>
<circle cx="342.14" cy="422.20" r="1.2" fill="#000"/>
<circle cx="342.14" cy="427.00" r="1.2" fill="#000"/>
<circle cx="335.64" cy="431.80" r="1.2" fill="#000"/>
<circle cx="338.89" cy="431.80" r="1.2" fill="#000"/>
<circle cx="342.14" cy="431.80" r="1.2" fill="#000"/>
<circle cx="345.39" cy="431.80" r="1.2" fill="#000"/>
<circle cx="348.64" cy="431.80" r="1.2" fill="#000"/>
<circle cx="342.14" cy="436.60" r="1.2" fill="#000"/>
<circle cx="335.64" cy="441.40" r="1.2" fill="#000"/>
<circle cx="338.89" cy="441.40" r="1.2" fill="#000"/>
<circle cx="342.14" cy="441.40" r="1.2" fill="#000"/>
<circle cx="345.39" cy="441.40" r="1.2" fill="#000"/>
<circle cx="348.64" cy="441.40" r="1.2" fill="#000"/>
<circle cx="338.54" cy="446.20" r="1.2" fill="#000"/>
<circle cx="342.14" cy="446.20" r="1.2" fill="#000"/>
<circle cx="345.74" cy="446.20" r="1.2" fill="#000"/>
<circle cx="338.54" cy="451.00" r="1.2" fill="#000"/>
<circle cx="342.14" cy="451.00" r="1.2" fill="#000"/>
<circle cx="345.74" cy="451.00" r="1.2" fill="#000"/>
<text transform="translate(347.04 460.5) rotate(-90)" font-size="13.3" text-anchor="end" fill="#000">Pat 8</text>
<rect x="354.10" y="422.07" width="14.6" height="28.93" fill="#a4a4a7" stroke="#1a1a1a" stroke-width="1.15"/>
<g stroke="#111" stroke-width="1.0"><line x1="361.40" y1="416.44" x2="361.40" y2="426.52"/><line x1="357.80" y1="416.44" x2="365.00" y2="416.44"/><line x1="357.80" y1="426.52" x2="365.00" y2="426.52"/></g>
<circle cx="361.40" cy="388.60" r="1.2" fill="#000"/>
<circle cx="361.40" cy="393.40" r="1.2" fill="#000"/>
<circle cx="361.40" cy="398.20" r="1.2" fill="#000"/>
<circle cx="361.40" cy="412.60" r="1.2" fill="#000"/>
<circle cx="357.80" cy="427.00" r="1.2" fill="#000"/>
<circle cx="361.40" cy="427.00" r="1.2" fill="#000"/>
<circle cx="365.00" cy="427.00" r="1.2" fill="#000"/>
<circle cx="361.40" cy="431.80" r="1.2" fill="#000"/>
<circle cx="361.40" cy="436.60" r="1.2" fill="#000"/>
<circle cx="361.40" cy="441.40" r="1.2" fill="#000"/>
<circle cx="361.40" cy="446.20" r="1.2" fill="#000"/>
<text transform="translate(366.30 460.5) rotate(-90)" font-size="13.3" text-anchor="end" fill="#000">Pat 9</text>
<rect x="373.36" y="438.39" width="14.6" height="12.61" fill="#a4a4a7" stroke="#1a1a1a" stroke-width="1.15"/>
<g stroke="#111" stroke-width="1.0"><line x1="380.66" y1="435.16" x2="380.66" y2="439.00"/><line x1="377.06" y1="435.16" x2="384.26" y2="435.16"/><line x1="377.06" y1="439.00" x2="384.26" y2="439.00"/></g>
<circle cx="380.66" cy="422.20" r="1.2" fill="#000"/>
<circle cx="380.66" cy="431.80" r="1.2" fill="#000"/>
<circle cx="374.16" cy="436.60" r="1.2" fill="#000"/>
<circle cx="377.41" cy="436.60" r="1.2" fill="#000"/>
<circle cx="380.66" cy="436.60" r="1.2" fill="#000"/>
<circle cx="383.91" cy="436.60" r="1.2" fill="#000"/>
<circle cx="387.16" cy="436.60" r="1.2" fill="#000"/>
<circle cx="377.06" cy="441.40" r="1.2" fill="#000"/>
<circle cx="380.66" cy="441.40" r="1.2" fill="#000"/>
<circle cx="384.26" cy="441.40" r="1.2" fill="#000"/>
<circle cx="380.66" cy="451.00" r="1.2" fill="#000"/>
<text transform="translate(385.56 460.5) rotate(-90)" font-size="13.3" text-anchor="end" fill="#000">Pat 10</text>
<rect x="392.62" y="444.15" width="14.6" height="6.85" fill="#a4a4a7" stroke="#1a1a1a" stroke-width="1.15"/>
<g stroke="#111" stroke-width="1.0"><line x1="399.92" y1="440.44" x2="399.92" y2="446.68"/><line x1="396.32" y1="440.44" x2="403.52" y2="440.44"/><line x1="396.32" y1="446.68" x2="403.52" y2="446.68"/></g>
<circle cx="398.12" cy="417.40" r="1.2" fill="#000"/>
<circle cx="401.72" cy="417.40" r="1.2" fill="#000"/>
<circle cx="399.92" cy="427.00" r="1.2" fill="#000"/>
<circle cx="399.92" cy="436.60" r="1.2" fill="#000"/>
<circle cx="393.42" cy="451.00" r="1.2" fill="#000"/>
<circle cx="396.02" cy="451.00" r="1.2" fill="#000"/>
<circle cx="398.62" cy="451.00" r="1.2" fill="#000"/>
<circle cx="401.22" cy="451.00" r="1.2" fill="#000"/>
<circle cx="403.82" cy="451.00" r="1.2" fill="#000"/>
<circle cx="406.42" cy="451.00" r="1.2" fill="#000"/>
<text transform="translate(404.82 460.5) rotate(-90)" font-size="13.3" text-anchor="end" fill="#000">Pat 12</text>
<rect x="411.88" y="450.63" width="14.6" height="0.37" fill="#a4a4a7" stroke="#1a1a1a" stroke-width="1.15"/>
<g stroke="#111" stroke-width="1.0"><line x1="419.18" y1="448.60" x2="419.18" y2="451.00"/><line x1="415.58" y1="448.60" x2="422.78" y2="448.60"/><line x1="415.58" y1="451.00" x2="422.78" y2="451.00"/></g>
<circle cx="419.18" cy="441.40" r="1.2" fill="#000"/>
<circle cx="419.18" cy="446.20" r="1.2" fill="#000"/>
<circle cx="412.68" cy="451.00" r="1.2" fill="#000"/>
<circle cx="415.28" cy="451.00" r="1.2" fill="#000"/>
<circle cx="417.88" cy="451.00" r="1.2" fill="#000"/>
<circle cx="420.48" cy="451.00" r="1.2" fill="#000"/>
<circle cx="423.08" cy="451.00" r="1.2" fill="#000"/>
<circle cx="425.68" cy="451.00" r="1.2" fill="#000"/>
<text transform="translate(424.08 460.5) rotate(-90)" font-size="13.3" text-anchor="end" fill="#000">Pat 19</text>
<line x1="50" y1="451" x2="436.8" y2="451" stroke="#555" stroke-width="1.2"/>
<line x1="57.2" y1="422.20" x2="436.8" y2="422.20" stroke="#2a2aee" stroke-width="1.9" stroke-dasharray="5 4.6"/>
<path d="M66.9 498.4 L66.9 518 L332.7 518 L332.7 498.8" fill="none" stroke="#000" stroke-width="1.9"/>
<path d="M337.1 498.8 L337.1 518 L425.8 518 L425.8 498.8" fill="none" stroke="#000" stroke-width="1.9"/>
<text x="194.5" y="531.7" font-size="12.1" font-weight="bold" fill="#000" text-anchor="middle" >Primary tumors</text>
<text x="379.7" y="532.7" font-size="12.1" font-weight="bold" fill="#000" text-anchor="middle" >Metastases</text>
<line x1="497.8" y1="255.36" x2="497.8" y2="451.4" stroke="#000" stroke-width="1.3"/>
<line x1="497.2" y1="450.8" x2="683.7" y2="450.8" stroke="#000" stroke-width="1.3"/>
<line x1="495.8" y1="450.80" x2="497.8" y2="450.80" stroke="#000" stroke-width="1.2"/>
<text x="494.1" y="455.90000000000003" font-size="14.6" font-weight="bold" fill="#000" text-anchor="end" >0</text>
<line x1="495.8" y1="422.88" x2="497.8" y2="422.88" stroke="#000" stroke-width="1.2"/>
<text x="494.1" y="427.98" font-size="14.6" font-weight="bold" fill="#000" text-anchor="end" >2</text>
<line x1="495.8" y1="394.96" x2="497.8" y2="394.96" stroke="#000" stroke-width="1.2"/>
<text x="494.1" y="400.06000000000006" font-size="14.6" font-weight="bold" fill="#000" text-anchor="end" >4</text>
<line x1="495.8" y1="367.04" x2="497.8" y2="367.04" stroke="#000" stroke-width="1.2"/>
<text x="494.1" y="372.14000000000004" font-size="14.6" font-weight="bold" fill="#000" text-anchor="end" >6</text>
<line x1="495.8" y1="339.12" x2="497.8" y2="339.12" stroke="#000" stroke-width="1.2"/>
<text x="494.1" y="344.22" font-size="14.6" font-weight="bold" fill="#000" text-anchor="end" >8</text>
<line x1="495.8" y1="311.20" x2="497.8" y2="311.20" stroke="#000" stroke-width="1.2"/>
<text x="494.1" y="316.3" font-size="14.6" font-weight="bold" fill="#000" text-anchor="end" >10</text>
<line x1="495.8" y1="283.28" x2="497.8" y2="283.28" stroke="#000" stroke-width="1.2"/>
<text x="494.1" y="288.38" font-size="14.6" font-weight="bold" fill="#000" text-anchor="end" >12</text>
<line x1="495.8" y1="255.36" x2="497.8" y2="255.36" stroke="#000" stroke-width="1.2"/>
<text x="494.1" y="260.46000000000004" font-size="14.6" font-weight="bold" fill="#000" text-anchor="end" >14</text>
<text x="0" y="0" font-size="14" font-weight="bold" fill="#000" text-anchor="middle" transform="translate(472.5 354.6) rotate(-90)">No. metastasized cells</text>
<text x="590.8" y="250.8" font-size="11.1" font-weight="bold" fill="#000" text-anchor="middle" >Staging</text>
<text x="520.9" y="466.8" font-size="14" font-weight="bold" fill="#000" text-anchor="middle" >I-II</text>
<text x="566.8" y="466.8" font-size="14" font-weight="bold" fill="#000" text-anchor="middle" >IIIA-C</text>
<text x="612.9" y="466.8" font-size="14" font-weight="bold" fill="#000" text-anchor="middle" >IVA-B</text>
<text x="660.3" y="466.8" font-size="14" font-weight="bold" fill="#000" text-anchor="middle" >X</text>
<line x1="500.8" y1="395.2" x2="684" y2="395.2" stroke="#ff1a1a" stroke-width="1.9" stroke-dasharray="6.5 4.7"/>
<circle cx="521" cy="270.8" r="1.6" fill="#000"/>
<circle cx="516.3" cy="403.4" r="1.6" fill="#000"/>
<circle cx="525.6" cy="412.3" r="1.6" fill="#000"/>
<circle cx="516.3" cy="424.7" r="1.6" fill="#000"/>
<circle cx="520.9" cy="423.6" r="1.6" fill="#000"/>
<circle cx="567.7" cy="303" r="1.6" fill="#000"/>
<circle cx="572.3" cy="311.4" r="1.6" fill="#000"/>
<circle cx="563" cy="324.5" r="1.6" fill="#000"/>
<circle cx="572.3" cy="330.5" r="1.6" fill="#000"/>
<circle cx="567.7" cy="350.7" r="1.6" fill="#000"/>
<circle cx="563" cy="378.3" r="1.6" fill="#000"/>
<circle cx="572.3" cy="383.2" r="1.6" fill="#000"/>
<circle cx="567.7" cy="418.3" r="1.6" fill="#000"/>
<circle cx="567.7" cy="449.7" r="1.6" fill="#000"/>
<circle cx="613.6" cy="327.3" r="1.6" fill="#000"/>
<circle cx="613.8" cy="423.3" r="1.6" fill="#000"/>
<circle cx="609.2" cy="441.3" r="1.6" fill="#000"/>
<circle cx="660.3" cy="314" r="1.6" fill="#000"/>
<circle cx="660.5" cy="402.4" r="1.6" fill="#000"/>
</svg></body></html>
